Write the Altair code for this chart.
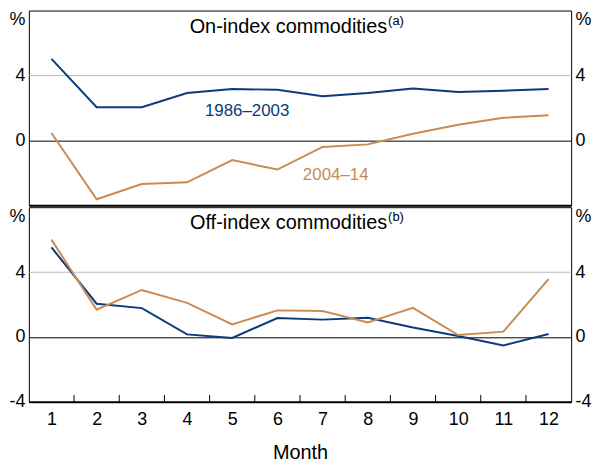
import altair as alt
import pandas as pd

months = list(range(1, 13))
on_1986_2003 = [5.02, 2.04, 2.04, 2.92, 3.16, 3.12, 2.72, 2.92, 3.20, 2.98, 3.06, 3.16]
on_2004_14 = [0.45, -3.63, -2.69, -2.59, -1.22, -1.80, -0.41, -0.25, 0.41, 0.96, 1.39, 1.55]
off_1986_2003 = [5.52, 2.05, 1.78, 0.16, -0.06, 1.17, 1.07, 1.19, 0.59, 0.06, -0.52, 0.18]
off_2004_14 = [6.00, 1.68, 2.90, 2.10, 0.78, 1.64, 1.60, 0.90, 1.80, 0.12, 0.33, 3.57]
series_names = ["1986–2003", "2004–14"]
y_ticks = [-4, 0, 4, 8]

BLUE = "#0b3b7c"
ORANGE = "#c98b52"
FONT = "Liberation Sans"
W = 546
H = 196

xscale = alt.Scale(domain=[0.5, 12.5], nice=False)
yscale = alt.Scale(domain=[-4, 8], nice=False)


def x_enc(bottom):
    if bottom:
        ax = alt.Axis(values=months, ticks=False, labelPadding=9, title="Month",
                      titlePadding=14, titleFontSize=20, domain=True, domainColor="black",
                      domainWidth=2, grid=False, labelAngle=0)
    else:
        ax = alt.Axis(values=months, ticks=False, labels=False, title=None,
                      domain=True, domainColor="black", domainWidth=2, grid=False)
    return alt.X("month:Q", scale=xscale, axis=ax)


def y_axis(orient, bottom, grid):
    if bottom:
        expr = "datum.value == 8 ? '%' : toString(datum.value)"
    else:
        expr = "datum.value == 8 ? '%' : datum.value == -4 ? '' : toString(datum.value)"
    kw = dict(
        orient=orient, values=y_ticks, labelExpr=expr, ticks=False, domain=False,
        title=None, labelPadding=4,
        labelBaseline={"condition": {"test": "datum.value == 8", "value": "top"}, "value": "middle"},
    )
    if grid:
        kw.update(
            grid=True,
            gridColor={"condition": {"test": "datum.value == 0", "value": "black"}, "value": "#b8b8b8"},
            gridOpacity={"condition": {"test": "datum.value == 0 || datum.value == 4", "value": 1}, "value": 0},
            gridWidth=1,
        )
    else:
        kw.update(grid=False)
    return alt.Axis(**kw)


def panel(s1, s2, title, sup, lab_pos, bottom):
    df = pd.DataFrame({
        "month": months * 2,
        "value": s1 + s2,
        "series": [series_names[0]] * 12 + [series_names[1]] * 12,
    })
    color = alt.Color("series:N", scale=alt.Scale(domain=series_names, range=[BLUE, ORANGE]), legend=None)
    lines = alt.Chart(df).mark_line(strokeWidth=2).encode(
        x=x_enc(bottom),
        y=alt.Y("value:Q", scale=yscale, axis=y_axis("left", bottom, True)),
        color=color,
    )
    right = alt.Chart(df).mark_line(strokeOpacity=0).encode(
        x=x_enc(bottom),
        y=alt.Y("value:Q", scale=yscale, axis=y_axis("right", bottom, False)),
        detail="series:N",
    )
    tdf = pd.DataFrame({"month": [8.43], "value": [7.0], "text": [title]})
    ttl = alt.Chart(tdf).mark_text(align="right", baseline="middle", fontSize=20, font=FONT, color="black").encode(
        x=x_enc(bottom), y=alt.Y("value:Q", scale=yscale, axis=None), text="text:N")
    sdf = pd.DataFrame({"month": [8.45], "value": [7.38], "text": [sup]})
    sp = alt.Chart(sdf).mark_text(align="left", baseline="middle", fontSize=13, font=FONT, color="black").encode(
        x=x_enc(bottom), y=alt.Y("value:Q", scale=yscale, axis=None), text="text:N")
    layers = [lines, right, ttl, sp]
    if lab_pos is not None:
        ldf = pd.DataFrame({"month": [p[0] for p in lab_pos], "value": [p[1] for p in lab_pos],
                            "series": series_names})
        labs = alt.Chart(ldf).mark_text(fontSize=17, font=FONT, baseline="middle").encode(
            x=x_enc(bottom), y=alt.Y("value:Q", scale=yscale, axis=None), text="series:N", color=color)
        layers.append(labs)
    if bottom:
        tk = pd.DataFrame({"m": months[:-1]})
        ticks = alt.Chart(tk).transform_calculate(month="datum.m + 0.5").mark_rule(
            color="black", strokeWidth=1).encode(
            x=x_enc(bottom), y=alt.value(H), y2=alt.value(H - 7))
        layers.append(ticks)
    return alt.layer(*layers).resolve_scale(y="independent").properties(width=W, height=H)


top = panel(on_1986_2003, on_2004_14, "On-index commodities", "(a)",
            [(5.33, 1.78), (7.29, -2.12)], False)
bot = panel(off_1986_2003, off_2004_14, "Off-index commodities", "(b)", None, True)

chart = alt.vconcat(top, bot, spacing=0).properties(
    padding={"left": 0, "top": 0, "right": 0, "bottom": 0}
).configure_view(stroke="black", strokeWidth=1).configure_axis(
    labelFont=FONT, labelFontSize=18, labelColor="black",
    titleFont=FONT, titleFontSize=20, titleColor="black", titleFontWeight="normal",
)

chart.save("out.html", embed_options={"renderer": "svg", "actions": False})
